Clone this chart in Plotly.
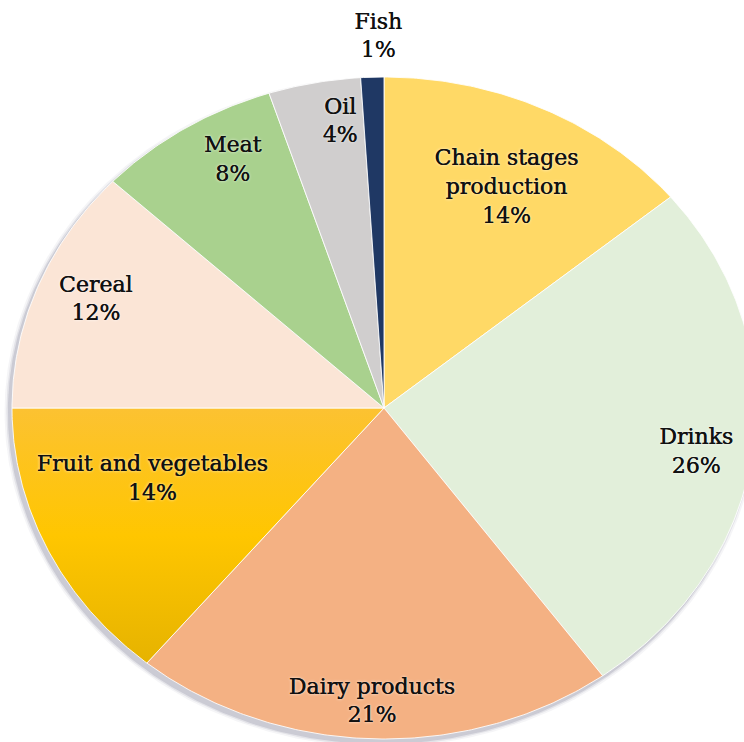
import numpy as np
import plotly.graph_objects as go

# Share of each food chain category (clockwise from 12 o'clock)
categories = ["Chain stages<br>production", "Drinks", "Dairy products",
              "Fruit and vegetables", "Cereal", "Meat", "Oil", "Fish"]
shares = [14, 26, 21, 14, 12, 8, 4, 1]

# Styling
slice_colors = ["#FFD966", "#E2EFDA", "#F4B183", "#FFC000",
                "#FBE5D6", "#A9D18E", "#D0CECE", "#1F3864"]
label_radius = [0.74, 0.85, 0.89, 0.66, 0.84, 0.85, 0.87, 1.12]
label_turn = [1.2, 2.0, 0.3, 5.9, 1.1, 3.8, 3.0, 1.0]   # degrees past mid-angle

W, H = 744, 742
CX, CY = 384, 408          # pie centre in pixels
RX, RY = 372, 331          # horizontal / vertical radius in pixels

total = float(sum(shares))
bounds = np.concatenate([[0.0], np.cumsum(shares) / total * 360.0])


def wedge(a0, a1):
    th = np.radians(np.linspace(a0, a1, max(int((a1 - a0) * 2) + 2, 3)))
    xs = np.concatenate([[0.0], np.sin(th), [0.0]])
    ys = np.concatenate([[0.0], np.cos(th), [0.0]])
    return xs, ys


fig = go.Figure()

# soft drop shadow under the pie
th_full = np.radians(np.linspace(0, 360, 721))
for s, a in [(1.012, 0.05), (1.007, 0.09), (1.003, 0.14)]:
    fig.add_trace(go.Scatter(
        x=s * np.sin(th_full) - 3 / RX, y=s * np.cos(th_full) - 4 / RY,
        mode="lines", fill="toself", line=dict(width=0),
        fillcolor=f"rgba(60,60,90,{a})", hoverinfo="skip", showlegend=False))

for i, (name, v) in enumerate(zip(categories, shares)):
    xs, ys = wedge(bounds[i], bounds[i + 1])
    kw = dict(fillcolor=slice_colors[i])
    if name.startswith("Fruit"):
        kw["fillgradient"] = dict(type="vertical",
                                  colorscale=[[0, "#E6B300"], [0.5, "#FFC600"],
                                              [1, "#FCC232"]])
    fig.add_trace(go.Scatter(
        x=xs, y=ys, mode="lines", fill="toself",
        line=dict(color="rgba(255,255,255,0.85)", width=1),
        hoverinfo="skip", showlegend=False, name=name.replace("<br>", " "), **kw))

# slice labels
mids = (bounds[:-1] + bounds[1:]) / 2.0 + np.array(label_turn)
lx = [r * np.sin(np.radians(m)) for r, m in zip(label_radius, mids)]
ly = [r * np.cos(np.radians(m)) for r, m in zip(label_radius, mids)]
texts = [f"{c}<br>{v}%" for c, v in zip(categories, shares)]
fig.add_trace(go.Scatter(
    x=lx, y=ly, mode="text", text=texts, textposition="middle center",
    textfont=dict(family="DejaVu Serif", size=22, color="#111111",
                  shadow="0.4px 0px 0px #111111, 0px 0px 3px rgba(255,255,255,0.9)"),
    hoverinfo="skip", showlegend=False))

fig.update_layout(
    width=W, height=H,
    margin=dict(l=0, r=0, t=0, b=0),
    paper_bgcolor="white", plot_bgcolor="white",
    xaxis=dict(range=[-CX / RX, (W - CX) / RX], visible=False, fixedrange=True),
    yaxis=dict(range=[(CY - H) / RY, CY / RY], visible=False, fixedrange=True),
)

fig.write_html("out.html")
